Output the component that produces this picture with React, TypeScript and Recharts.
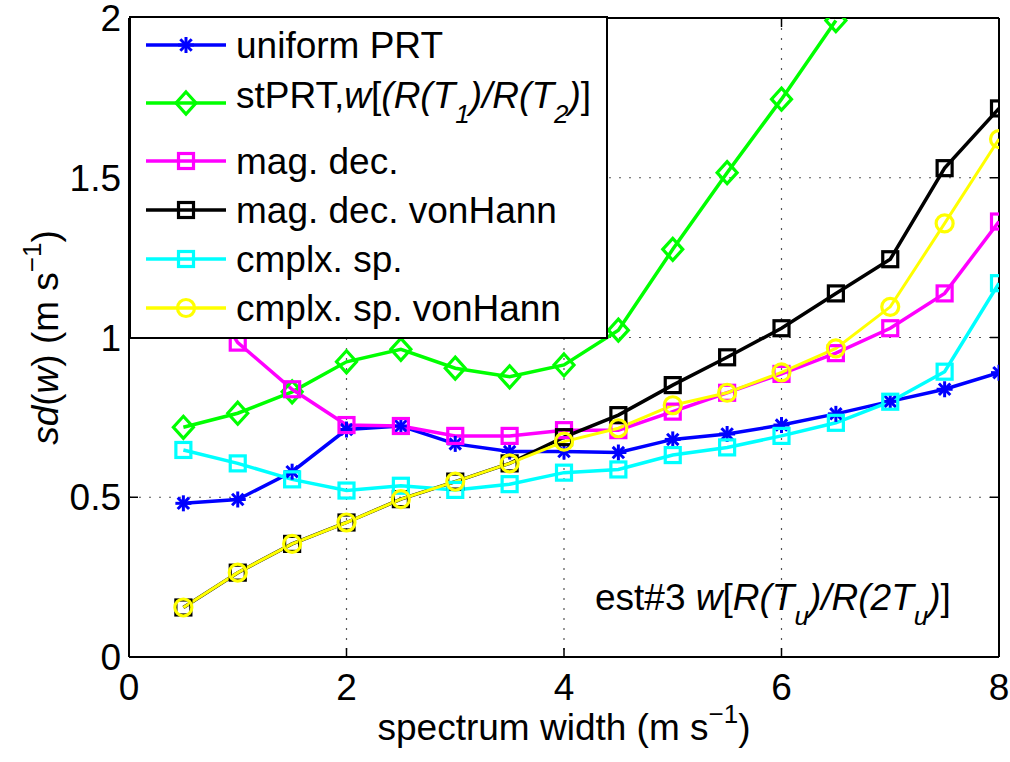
import React from 'react';
import { LineChart, Line, XAxis, YAxis, CartesianGrid, Legend, ReferenceLine } from 'recharts';

// ---------- data ----------
const spectrumWidths = [0.5, 1, 1.5, 2, 2.5, 3, 3.5, 4, 4.5, 5, 5.5, 6, 6.5, 7, 7.5, 8];
const uniformPRT = [0.481, 0.493, 0.58, 0.712, 0.723, 0.667, 0.643, 0.643, 0.64, 0.681, 0.698, 0.726, 0.761, 0.8, 0.838, 0.89];
const stPRT = [0.719, 0.763, 0.83, 0.924, 0.963, 0.904, 0.877, 0.914, 1.023, 1.276, 1.516, 1.746, 1.992, null, null, null];
const magDec = [1.25, 0.984, 0.838, 0.726, 0.723, 0.692, 0.692, 0.71, 0.71, 0.768, 0.827, 0.886, 0.951, 1.029, 1.138, 1.363];
const magDecVonHann = [0.155, 0.264, 0.354, 0.421, 0.494, 0.549, 0.606, 0.688, 0.757, 0.851, 0.938, 1.029, 1.138, 1.245, 1.53, 1.717];
const cmplxSp = [0.648, 0.606, 0.556, 0.521, 0.536, 0.523, 0.541, 0.577, 0.587, 0.632, 0.656, 0.692, 0.733, 0.799, 0.893, 1.17];
const cmplxSpVonHann = [0.155, 0.264, 0.354, 0.421, 0.494, 0.549, 0.606, 0.674, 0.716, 0.788, 0.827, 0.891, 0.966, 1.096, 1.357, 1.621];

const xTicks = [0, 2, 4, 6, 8];
const xTickLabels = ['0', '2', '4', '6', '8'];
const yTicks = [0, 0.5, 1, 1.5, 2];
const yTickLabels = ['0', '0.5', '1', '1.5', '2'];

type Seg = { t: string; i?: boolean; sub?: boolean; sup?: boolean };

const seriesKeys = ['uniform', 'stprt', 'mag', 'magvh', 'cmplx', 'cmplxvh'];
const seriesColors = ['#0000FF', '#00FF00', '#FF00FF', '#000000', '#00FFFF', '#FFFF00'];
const seriesMarkers = ['star', 'diamond', 'square', 'square', 'square', 'circle'];
const seriesLabels: Seg[][] = [
  [{ t: 'uniform PRT' }],
  [
    { t: 'stPRT,' }, { t: 'w', i: true }, { t: '[' }, { t: '(R(T', i: true }, { t: '1', i: true, sub: true },
    { t: ')/R(T', i: true }, { t: '2', i: true, sub: true }, { t: ')', i: true }, { t: ']' },
  ],
  [{ t: 'mag. dec.' }],
  [{ t: 'mag. dec. vonHann' }],
  [{ t: 'cmplx. sp.' }],
  [{ t: 'cmplx. sp. vonHann' }],
];
const seriesValues = [uniformPRT, stPRT, magDec, magDecVonHann, cmplxSp, cmplxSpVonHann];

const annotationText: Seg[] = [
  { t: 'est#3 ' }, { t: 'w', i: true }, { t: '[' }, { t: 'R(T', i: true }, { t: 'u', i: true, sub: true },
  { t: ')/R(2T', i: true }, { t: 'u', i: true, sub: true }, { t: ')', i: true }, { t: ']' },
];
const xLabelText: Seg[] = [{ t: 'spectrum width (m s' }, { t: '\u22121', sup: true }, { t: ')' }];
const yLabelText: Seg[] = [{ t: 'sd', i: true }, { t: '(' }, { t: 'w', i: true }, { t: ') (m s' }, { t: '\u22121', sup: true }, { t: ')' }];

const data = spectrumWidths.map((w, i) => {
  const row: any = { w };
  seriesKeys.forEach((k, s) => { row[k] = seriesValues[s][i]; });
  return row;
});

// ---------- layout ----------
const W = 1010;
const H = 762;
const PL = 129;
const PT = 18;
const PR = 999;
const PB = 657;
const FONT = '"Liberation Sans", Arial, Helvetica, sans-serif';
const FS = 37;
const SFS = 26;

function RichText({ segs, x, y, anchor, transform }: { segs: Seg[]; x: number; y: number; anchor?: string; transform?: string }) {
  let shift = 0;
  const spans = segs.map((s, k) => {
    const target = s.sub ? 15 : s.sup ? -17 : 0;
    const dy = target - shift;
    shift = target;
    return (
      <tspan key={k} dy={dy} fontStyle={s.i ? 'italic' : 'normal'} fontSize={s.sub || s.sup ? SFS : FS}>
        {s.t}
      </tspan>
    );
  });
  return (
    <text x={x} y={y} textAnchor={anchor || 'start'} fontFamily={FONT} fontSize={FS} fill="#000" transform={transform}>
      {spans}
    </text>
  );
}

function Marker({ kind, cx, cy, color }: { kind: string; cx: number; cy: number; color: string }) {
  if (kind === 'star') {
    return (
      <g stroke={color} strokeWidth={3}>
        <line x1={cx - 8} y1={cy} x2={cx + 8} y2={cy} />
        <line x1={cx} y1={cy - 8} x2={cx} y2={cy + 8} />
        <line x1={cx - 5.7} y1={cy - 5.7} x2={cx + 5.7} y2={cy + 5.7} />
        <line x1={cx - 5.7} y1={cy + 5.7} x2={cx + 5.7} y2={cy - 5.7} />
      </g>
    );
  }
  if (kind === 'diamond') {
    return (
      <polygon
        points={`${cx},${cy - 11} ${cx + 10},${cy} ${cx},${cy + 11} ${cx - 10},${cy}`}
        fill="none"
        stroke={color}
        strokeWidth={3.2}
      />
    );
  }
  if (kind === 'square') {
    return <rect x={cx - 7.5} y={cy - 7.5} width={15} height={15} fill="none" stroke={color} strokeWidth={3.2} />;
  }
  return <circle cx={cx} cy={cy} r={8.5} fill="none" stroke={color} strokeWidth={3.2} />;
}

const makeDot = (kind: string, color: string) => (p: any) => {
  if (p.cx == null || p.cy == null || p.value == null || Number.isNaN(p.cy)) return <g key={`d${p.index}`} />;
  return (
    <g key={`d${p.index}`}>
      <Marker kind={kind} cx={p.cx} cy={p.cy} color={color} />
    </g>
  );
};

function YTick(props: any) {
  const { x, y, index } = props;
  return (
    <g>
      <text x={x - 8} y={y + 13} textAnchor="end" fontFamily={FONT} fontSize={FS} fill="#000">
        {yTickLabels[index]}
      </text>
      <line x1={PL} x2={PL + 9} y1={y} y2={y} stroke="#000" strokeWidth={1.5} />
      <line x1={PR - 9} x2={PR} y1={y} y2={y} stroke="#000" strokeWidth={1.5} />
    </g>
  );
}

function XTick(props: any) {
  const { x, y, index } = props;
  return (
    <g>
      <text x={x} y={y + 43} textAnchor="middle" fontFamily={FONT} fontSize={FS} fill="#000">
        {xTickLabels[index]}
      </text>
      <line x1={x} x2={x} y1={PB} y2={PB - 9} stroke="#000" strokeWidth={1.5} />
      <line x1={x} x2={x} y1={PT} y2={PT + 9} stroke="#000" strokeWidth={1.5} />
    </g>
  );
}

function XLabel(props: any) {
  const vb = props.viewBox || { x: PL, y: PB, width: PR - PL, height: H - PB };
  return <RichText segs={xLabelText} x={vb.x + vb.width / 2} y={vb.y + 83} anchor="middle" />;
}

function YLabel(props: any) {
  const vb = props.viewBox || { x: 0, y: PT, width: PL, height: PB - PT };
  const cx = 58;
  const cy = vb.y + vb.height / 2;
  return <RichText segs={yLabelText} x={cx} y={cy} anchor="middle" transform={`rotate(-90 ${cx} ${cy})`} />;
}

const legendMarkerY = [45, 103, 161, 210, 259, 308];
const legendBaseline = [58, 108, 174, 223, 272, 321];

function LegendOverlay() {
  return (
    <svg width={W} height={H} style={{ display: 'block', pointerEvents: 'none' }}>
      <rect x={130} y={17} width={477} height={321} fill="#fff" stroke="#000" strokeWidth={2} />
      {seriesKeys.map((k, s) => (
        <g key={k}>
          <line x1={146} x2={226} y1={legendMarkerY[s]} y2={legendMarkerY[s]} stroke={seriesColors[s]} strokeWidth={3.5} />
          <Marker kind={seriesMarkers[s]} cx={186} cy={legendMarkerY[s]} color={seriesColors[s]} />
          <RichText segs={seriesLabels[s]} x={236} y={legendBaseline[s]} />
        </g>
      ))}
      <RichText segs={annotationText} x={595} y={610} />
    </svg>
  );
}

export default function App() {
  return (
    <div style={{ position: 'absolute', left: 0, top: 0, width: W, height: H, background: '#fff' }}>
      <LineChart width={W} height={H} data={data} margin={{ top: PT, right: W - PR, bottom: 0, left: 0 }}>
        <CartesianGrid stroke="#555" strokeWidth={1.2} strokeDasharray="2 8" />
        <XAxis
          dataKey="w"
          type="number"
          domain={[0, 8]}
          ticks={xTicks}
          interval={0}
          height={H - PB}
          tickSize={0}
          tickMargin={0}
          tickLine={false}
          axisLine={{ stroke: '#000', strokeWidth: 2 }}
          tick={<XTick />}
          label={<XLabel />}
          allowDataOverflow
        />
        <YAxis
          type="number"
          domain={[0, 2]}
          ticks={yTicks}
          interval={0}
          width={PL}
          tickSize={0}
          tickMargin={0}
          tickLine={false}
          axisLine={{ stroke: '#000', strokeWidth: 2 }}
          tick={<YTick />}
          label={<YLabel />}
          allowDataOverflow
        />
        <ReferenceLine y={2} stroke="#000" strokeWidth={2} />
        <ReferenceLine x={8} stroke="#000" strokeWidth={2} />
        {seriesKeys.map((k, s) => (
          <Line
            key={k}
            dataKey={k}
            type="linear"
            stroke={seriesColors[s]}
            strokeWidth={s === 5 ? 3 : 3.5}
            dot={makeDot(seriesMarkers[s], seriesColors[s])}
            activeDot={false}
            isAnimationActive={false}
            connectNulls={false}
          />
        ))}
        <Legend
          layout="vertical"
          align="center"
          verticalAlign="middle"
          wrapperStyle={{ left: 0, top: 0, width: W, height: H, pointerEvents: 'none' }}
          content={() => <LegendOverlay />}
        />
      </LineChart>
    </div>
  );
}
